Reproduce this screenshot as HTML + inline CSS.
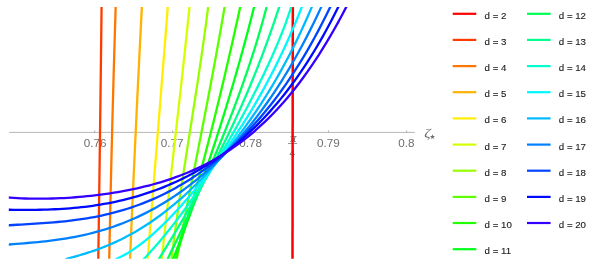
<!DOCTYPE html>
<html><head><meta charset="utf-8"><title>plot</title>
<style>html,body{margin:0;padding:0;background:#fff;}body{width:596px;height:264px;position:relative;overflow:hidden;will-change:transform;font-family:"Liberation Sans",sans-serif;}</style></head>
<body>
<svg width="596" height="264" viewBox="0 0 596 264" style="position:absolute;left:0;top:0">
<g stroke="#a3a3a3" stroke-width="0.8" fill="none">
<line x1="9.2" y1="132.4" x2="414.8" y2="132.4"/>
<line x1="94.7" y1="130.4" x2="94.7" y2="132.4"/>
<line x1="172.7" y1="130.4" x2="172.7" y2="132.4"/>
<line x1="250.7" y1="130.4" x2="250.7" y2="132.4"/>
<line x1="292.6" y1="130.4" x2="292.6" y2="132.4"/>
<line x1="328.6" y1="130.4" x2="328.6" y2="132.4"/>
<line x1="406.6" y1="130.4" x2="406.6" y2="132.4"/>
</g>
<g font-family="Liberation Sans, sans-serif" font-size="11.7" fill="#6e6e6e" text-anchor="middle">
<text x="95.2" y="147.3">0.76</text>
<text x="172.2" y="147.3">0.77</text>
<text x="250.7" y="147.3">0.78</text>
<text x="328.3" y="147.3">0.79</text>
<text x="406.4" y="147.3">0.8</text>
</g>
<g fill="#6e6e6e">
<text x="293.2" y="142.4" font-family="Liberation Serif, serif" font-style="italic" font-size="13" text-anchor="middle">π</text>
<rect x="288" y="143.1" width="9.1" height="0.7"/>
<text x="292.4" y="156.5" font-family="Liberation Sans, sans-serif" font-size="10.3" text-anchor="middle">4</text>
<text transform="translate(424.2,136.9) scale(1.18,1)" font-family="Liberation Serif, serif" font-style="italic" font-size="13.3">ζ</text>
<polygon points="432.50,134.20 433.12,136.05 435.07,136.07 433.50,137.22 434.09,139.08 432.50,137.95 430.91,139.08 431.50,137.22 429.93,136.07 431.88,136.05"/>
</g>
<clipPath id="cp"><rect x="8.8" y="7.1" width="408" height="251.6"/></clipPath>
<g fill="none" stroke-width="2.3" stroke-linecap="butt" stroke-linejoin="round" clip-path="url(#cp)">
<line x1="292.8" y1="5" x2="292.5" y2="260" stroke-width="2.5" stroke="#ff0000"/>
<path d="M101.60 5.00 L101.55 9.32 L101.50 13.64 L101.45 17.97 L101.40 22.29 L101.34 26.61 L101.29 30.93 L101.24 35.25 L101.19 39.58 L101.14 43.90 L101.09 48.22 L101.03 52.54 L100.98 56.86 L100.93 61.19 L100.88 65.51 L100.82 69.83 L100.77 74.15 L100.72 78.47 L100.66 82.80 L100.61 87.12 L100.56 91.44 L100.50 95.76 L100.45 100.08 L100.39 104.41 L100.34 108.73 L100.28 113.05 L100.23 117.37 L100.17 121.69 L100.11 126.02 L100.06 130.34 L100.00 134.66 L99.94 138.98 L99.89 143.31 L99.83 147.63 L99.77 151.95 L99.72 156.27 L99.66 160.59 L99.60 164.92 L99.54 169.24 L99.48 173.56 L99.43 177.88 L99.37 182.20 L99.31 186.53 L99.25 190.85 L99.19 195.17 L99.13 199.49 L99.07 203.81 L99.01 208.14 L98.95 212.46 L98.89 216.78 L98.83 221.10 L98.77 225.42 L98.71 229.75 L98.65 234.07 L98.59 238.39 L98.52 242.71 L98.46 247.03 L98.40 251.36 L98.34 255.68 L98.27 260.00" stroke="#ff3c00"/>
<path d="M115.73 5.00 L115.59 9.32 L115.46 13.64 L115.32 17.97 L115.19 22.29 L115.06 26.61 L114.93 30.93 L114.80 35.25 L114.67 39.58 L114.54 43.90 L114.42 48.22 L114.29 52.54 L114.16 56.86 L114.04 61.19 L113.92 65.51 L113.79 69.83 L113.67 74.15 L113.55 78.47 L113.43 82.80 L113.31 87.12 L113.19 91.44 L113.07 95.76 L112.95 100.08 L112.84 104.41 L112.72 108.73 L112.61 113.05 L112.49 117.37 L112.38 121.69 L112.27 126.02 L112.16 130.34 L112.05 134.66 L111.94 138.98 L111.83 143.31 L111.72 147.63 L111.61 151.95 L111.51 156.27 L111.40 160.59 L111.30 164.92 L111.19 169.24 L111.09 173.56 L110.99 177.88 L110.89 182.20 L110.79 186.53 L110.69 190.85 L110.59 195.17 L110.49 199.49 L110.40 203.81 L110.30 208.14 L110.20 212.46 L110.11 216.78 L110.02 221.10 L109.92 225.42 L109.83 229.75 L109.74 234.07 L109.65 238.39 L109.56 242.71 L109.47 247.03 L109.38 251.36 L109.30 255.68 L109.21 260.00" stroke="#ff7700"/>
<path d="M141.97 5.00 L141.75 9.32 L141.52 13.64 L141.30 17.97 L141.08 22.29 L140.86 26.61 L140.64 30.93 L140.42 35.25 L140.20 39.58 L139.98 43.90 L139.76 48.22 L139.55 52.54 L139.33 56.86 L139.12 61.19 L138.90 65.51 L138.69 69.83 L138.47 74.15 L138.26 78.47 L138.05 82.80 L137.84 87.12 L137.63 91.44 L137.42 95.76 L137.21 100.08 L137.00 104.41 L136.80 108.73 L136.59 113.05 L136.38 117.37 L136.18 121.69 L135.97 126.02 L135.77 130.34 L135.57 134.66 L135.37 138.98 L135.16 143.31 L134.96 147.63 L134.76 151.95 L134.56 156.27 L134.37 160.59 L134.17 164.92 L133.97 169.24 L133.77 173.56 L133.58 177.88 L133.38 182.20 L133.19 186.53 L133.00 190.85 L132.80 195.17 L132.61 199.49 L132.42 203.81 L132.23 208.14 L132.04 212.46 L131.85 216.78 L131.66 221.10 L131.47 225.42 L131.29 229.75 L131.10 234.07 L130.91 238.39 L130.73 242.71 L130.54 247.03 L130.36 251.36 L130.18 255.68 L130.00 260.00" stroke="#ffb200"/>
<path d="M167.95 5.00 L167.61 9.32 L167.27 13.64 L166.93 17.97 L166.58 22.29 L166.24 26.61 L165.90 30.93 L165.56 35.25 L165.22 39.58 L164.87 43.90 L164.53 48.22 L164.19 52.54 L163.85 56.86 L163.50 61.19 L163.16 65.51 L162.82 69.83 L162.47 74.15 L162.13 78.47 L161.79 82.80 L161.44 87.12 L161.10 91.44 L160.75 95.76 L160.41 100.08 L160.07 104.41 L159.72 108.73 L159.38 113.05 L159.03 117.37 L158.69 121.69 L158.34 126.02 L158.00 130.34 L157.65 134.66 L157.30 138.98 L156.96 143.31 L156.61 147.63 L156.27 151.95 L155.92 156.27 L155.57 160.59 L155.23 164.92 L154.88 169.24 L154.53 173.56 L154.19 177.88 L153.84 182.20 L153.49 186.53 L153.15 190.85 L152.80 195.17 L152.45 199.49 L152.10 203.81 L151.76 208.14 L151.41 212.46 L151.06 216.78 L150.71 221.10 L150.36 225.42 L150.01 229.75 L149.67 234.07 L149.32 238.39 L148.97 242.71 L148.62 247.03 L148.27 251.36 L147.92 255.68 L147.57 260.00" stroke="#ffee00"/>
<path d="M189.68 5.00 L189.24 9.32 L188.80 13.64 L188.35 17.97 L187.91 22.29 L187.46 26.61 L187.00 30.93 L186.55 35.25 L186.09 39.58 L185.63 43.90 L185.17 48.22 L184.70 52.54 L184.24 56.86 L183.77 61.19 L183.30 65.51 L182.82 69.83 L182.35 74.15 L181.87 78.47 L181.39 82.80 L180.91 87.12 L180.43 91.44 L179.95 95.76 L179.47 100.08 L178.98 104.41 L178.50 108.73 L178.01 113.05 L177.53 117.37 L177.04 121.69 L176.55 126.02 L176.06 130.34 L175.57 134.66 L175.08 138.98 L174.59 143.31 L174.11 147.63 L173.62 151.95 L173.13 156.27 L172.64 160.59 L172.15 164.92 L171.66 169.24 L171.17 173.56 L170.69 177.88 L170.20 182.20 L169.71 186.53 L169.23 190.85 L168.75 195.17 L168.26 199.49 L167.78 203.81 L167.30 208.14 L166.82 212.46 L166.35 216.78 L165.87 221.10 L165.40 225.42 L164.93 229.75 L164.46 234.07 L163.99 238.39 L163.52 242.71 L163.06 247.03 L162.60 251.36 L162.14 255.68 L161.68 260.00" stroke="#d4ff00"/>
<path d="M208.35 5.00 L207.82 9.32 L207.27 13.64 L206.72 17.97 L206.16 22.29 L205.58 26.61 L205.00 30.93 L204.41 35.25 L203.82 39.58 L203.21 43.90 L202.60 48.22 L201.99 52.54 L201.36 56.86 L200.73 61.19 L200.10 65.51 L199.46 69.83 L198.81 74.15 L198.16 78.47 L197.51 82.80 L196.85 87.12 L196.18 91.44 L195.52 95.76 L194.85 100.08 L194.18 104.41 L193.51 108.73 L192.83 113.05 L192.16 117.37 L191.48 121.69 L190.80 126.02 L190.13 130.34 L189.45 134.66 L188.77 138.98 L188.10 143.31 L187.42 147.63 L186.75 151.95 L186.08 156.27 L185.41 160.59 L184.74 164.92 L184.07 169.24 L183.41 173.56 L182.76 177.88 L182.10 182.20 L181.46 186.53 L180.81 190.85 L180.17 195.17 L179.54 199.49 L178.91 203.81 L178.29 208.14 L177.67 212.46 L177.07 216.78 L176.47 221.10 L175.87 225.42 L175.29 229.75 L174.71 234.07 L174.14 238.39 L173.58 242.71 L173.03 247.03 L172.49 251.36 L171.96 255.68 L171.44 260.00" stroke="#99ff00"/>
<path d="M224.96 5.00 L224.22 9.32 L223.48 13.64 L222.73 17.97 L221.98 22.29 L221.22 26.61 L220.46 30.93 L219.69 35.25 L218.91 39.58 L218.14 43.90 L217.35 48.22 L216.57 52.54 L215.78 56.86 L214.99 61.19 L214.19 65.51 L213.39 69.83 L212.58 74.15 L211.77 78.47 L210.96 82.80 L210.15 87.12 L209.33 91.44 L208.51 95.76 L207.69 100.08 L206.86 104.41 L206.03 108.73 L205.20 113.05 L204.37 117.37 L203.53 121.69 L202.70 126.02 L201.86 130.34 L201.02 134.66 L200.18 138.98 L199.33 143.31 L198.49 147.63 L197.64 151.95 L196.80 156.27 L195.95 160.59 L195.10 164.92 L194.25 169.24 L193.40 173.56 L192.55 177.88 L191.70 182.20 L190.85 186.53 L190.00 190.85 L189.15 195.17 L188.30 199.49 L187.45 203.81 L186.60 208.14 L185.75 212.46 L184.91 216.78 L184.06 221.10 L183.22 225.42 L182.37 229.75 L181.53 234.07 L180.69 238.39 L179.85 242.71 L179.01 247.03 L178.17 251.36 L177.34 255.68 L176.51 260.00" stroke="#5eff00"/>
<path d="M240.62 5.00 L239.68 9.32 L238.74 13.64 L237.79 17.97 L236.84 22.29 L235.88 26.61 L234.92 30.93 L233.96 35.25 L232.99 39.58 L232.01 43.90 L231.04 48.22 L230.05 52.54 L229.06 56.86 L228.07 61.19 L227.07 65.51 L226.06 69.83 L225.05 74.15 L224.03 78.47 L223.01 82.80 L221.98 87.12 L220.95 91.44 L219.91 95.76 L218.87 100.08 L217.81 104.41 L216.76 108.73 L215.69 113.05 L214.62 117.37 L213.55 121.69 L212.46 126.02 L211.37 130.34 L210.28 134.66 L209.18 138.98 L208.07 143.31 L206.95 147.63 L205.83 151.95 L204.69 156.27 L203.56 160.59 L202.41 164.92 L201.26 169.24 L200.10 173.56 L198.93 177.88 L197.76 182.20 L196.57 186.53 L195.38 190.85 L194.18 195.17 L192.98 199.49 L191.76 203.81 L190.54 208.14 L189.31 212.46 L188.07 216.78 L186.82 221.10 L185.57 225.42 L184.30 229.75 L183.03 234.07 L181.75 238.39 L180.46 242.71 L179.16 247.03 L177.85 251.36 L176.53 255.68 L175.20 260.00" stroke="#22ff00"/>
<path d="M254.58 5.00 L253.50 9.32 L252.40 13.64 L251.29 17.97 L250.17 22.29 L249.05 26.61 L247.91 30.93 L246.76 35.25 L245.60 39.58 L244.44 43.90 L243.26 48.22 L242.07 52.54 L240.88 56.86 L239.67 61.19 L238.45 65.51 L237.22 69.83 L235.99 74.15 L234.74 78.47 L233.48 82.80 L232.21 87.12 L230.93 91.44 L229.64 95.76 L228.34 100.08 L227.03 104.41 L225.71 108.73 L224.38 113.05 L223.04 117.37 L221.69 121.69 L220.33 126.02 L218.95 130.34 L217.57 134.66 L216.18 138.98 L214.77 143.31 L213.36 147.63 L211.93 151.95 L210.49 156.27 L209.05 160.59 L207.59 164.92 L206.12 169.24 L204.64 173.56 L203.15 177.88 L201.64 182.20 L200.13 186.53 L198.61 190.85 L197.07 195.17 L195.52 199.49 L193.97 203.81 L192.40 208.14 L190.82 212.46 L189.23 216.78 L187.62 221.10 L186.01 225.42 L184.39 229.75 L182.75 234.07 L181.10 238.39 L179.44 242.71 L177.77 247.03 L176.09 251.36 L174.40 255.68 L172.69 260.00" stroke="#00ff19"/>
<path d="M267.10 5.00 L265.97 9.32 L264.82 13.64 L263.65 17.97 L262.45 22.29 L261.22 26.61 L259.97 30.93 L258.70 35.25 L257.40 39.58 L256.09 43.90 L254.74 48.22 L253.38 52.54 L251.99 56.86 L250.58 61.19 L249.15 65.51 L247.70 69.83 L246.23 74.15 L244.74 78.47 L243.22 82.80 L241.69 87.12 L240.14 91.44 L238.56 95.76 L236.97 100.08 L235.36 104.41 L233.73 108.73 L232.08 113.05 L230.41 117.37 L228.73 121.69 L227.02 126.02 L225.30 130.34 L223.57 134.66 L221.81 138.98 L220.04 143.31 L218.26 147.63 L216.46 151.95 L214.64 156.27 L212.81 160.59 L210.96 164.92 L209.10 169.24 L207.22 173.56 L205.33 177.88 L203.43 182.20 L201.51 186.53 L199.58 190.85 L197.64 195.17 L195.69 199.49 L193.72 203.81 L191.74 208.14 L189.75 212.46 L187.74 216.78 L185.73 221.10 L183.71 225.42 L181.67 229.75 L179.63 234.07 L177.57 238.39 L175.51 242.71 L173.43 247.03 L171.35 251.36 L169.26 255.68 L167.16 260.00" stroke="#00ff55"/>
<path d="M279.83 5.00 L278.42 9.32 L276.99 13.64 L275.54 17.97 L274.08 22.29 L272.59 26.61 L271.09 30.93 L269.56 35.25 L268.01 39.58 L266.45 43.90 L264.86 48.22 L263.25 52.54 L261.62 56.86 L259.96 61.19 L258.29 65.51 L256.59 69.83 L254.86 74.15 L253.12 78.47 L251.34 82.80 L249.55 87.12 L247.73 91.44 L245.89 95.76 L244.02 100.08 L242.13 104.41 L240.21 108.73 L238.27 113.05 L236.31 117.37 L234.32 121.69 L232.30 126.02 L230.26 130.34 L228.19 134.66 L226.10 138.98 L223.99 143.31 L221.85 147.63 L219.68 151.95 L217.49 156.27 L215.28 160.59 L213.04 164.92 L210.78 169.24 L208.50 173.56 L206.19 177.88 L203.85 182.20 L201.50 186.53 L199.12 190.85 L196.72 195.17 L194.30 199.49 L191.85 203.81 L189.39 208.14 L186.90 212.46 L184.39 216.78 L181.86 221.10 L179.31 225.42 L176.74 229.75 L174.16 234.07 L171.55 238.39 L168.93 242.71 L166.29 247.03 L163.63 251.36 L160.96 255.68 L158.27 260.00" stroke="#00ff90"/>
<path d="M291.84 5.00 L290.46 9.32 L289.03 13.64 L287.53 17.97 L285.98 22.29 L284.38 26.61 L282.72 30.93 L281.02 35.25 L279.26 39.58 L277.47 43.90 L275.63 48.22 L273.75 52.54 L271.84 56.86 L269.88 61.19 L267.90 65.51 L265.88 69.83 L263.83 74.15 L261.74 78.47 L259.63 82.80 L257.49 87.12 L255.32 91.44 L253.13 95.76 L250.91 100.08 L248.66 104.41 L246.39 108.73 L244.09 113.05 L241.77 117.37 L239.42 121.69 L237.04 126.02 L234.64 130.34 L232.21 134.66 L229.75 138.98 L227.27 143.31 L224.75 147.63 L222.21 151.95 L219.63 156.27 L217.03 160.59 L214.38 164.92 L211.70 169.24 L208.99 173.56 L206.23 177.88 L203.43 182.20 L200.59 186.53 L197.71 190.85 L194.77 195.17 L191.79 199.49 L188.75 203.81 L185.65 208.14 L182.50 212.46 L179.28 216.78 L176.00 221.10 L172.65 225.42 L169.23 229.75 L165.73 234.07 L162.15 238.39 L158.49 242.71 L154.74 247.03 L150.90 251.36 L146.97 255.68 L142.93 260.00" stroke="#00ffcc"/>
<path d="M115.50 259.20 L117.63 258.29 L119.76 257.31 L121.88 256.26 L124.01 255.13 L126.14 253.94 L128.27 252.69 L130.40 251.37 L132.52 249.99 L134.65 248.55 L136.78 247.06 L138.91 245.51 L141.04 243.91 L143.17 242.26 L145.29 240.55 L147.42 238.80 L149.55 237.01 L151.68 235.17 L153.81 233.28 L155.93 231.36 L158.06 229.39 L160.19 227.38 L162.32 225.34 L164.45 223.26 L166.57 221.14 L168.70 218.99 L170.83 216.80 L172.96 214.58 L175.09 212.32 L177.21 210.04 L179.34 207.72 L181.47 205.37 L183.60 202.99 L185.73 200.58 L187.86 198.14 L189.98 195.67 L192.11 193.17 L194.24 190.64 L196.37 188.08 L198.50 185.49 L200.62 182.87 L202.75 180.23 L204.88 177.55 L207.01 174.84 L209.14 172.10 L211.26 169.34 L213.39 166.54 L215.52 163.70 L217.65 160.84 L219.78 157.94 L221.90 155.01 L224.03 152.04 L226.16 149.04 L228.29 146.00 L230.42 142.92 L232.54 139.80 L234.67 136.65 L236.80 133.45 L238.93 130.21 L241.06 126.93 L243.19 123.60 L245.31 120.23 L247.44 116.81 L249.57 113.33 L251.70 109.81 L253.83 106.24 L255.95 102.61 L258.08 98.92 L260.21 95.18 L262.34 91.37 L264.47 87.50 L266.59 83.57 L268.72 79.57 L270.85 75.51 L272.98 71.37 L275.11 67.16 L277.23 62.88 L279.36 58.51 L281.49 54.07 L283.62 49.54 L285.75 44.93 L287.88 40.23 L290.00 35.44 L292.13 30.56 L294.26 25.58 L296.39 20.50 L298.52 15.31 L300.64 10.03 L302.77 4.63 L304.90 -0.88" stroke="#00f7ff"/>
<path d="M65.50 259.24 L68.30 258.46 L71.10 257.68 L73.91 256.89 L76.71 256.09 L79.51 255.27 L82.31 254.42 L85.12 253.56 L87.92 252.67 L90.72 251.75 L93.52 250.80 L96.32 249.81 L99.13 248.80 L101.93 247.74 L104.73 246.65 L107.53 245.51 L110.34 244.34 L113.14 243.12 L115.94 241.86 L118.74 240.55 L121.54 239.19 L124.35 237.79 L127.15 236.34 L129.95 234.84 L132.75 233.29 L135.56 231.69 L138.36 230.04 L141.16 228.34 L143.96 226.59 L146.77 224.79 L149.57 222.93 L152.37 221.02 L155.17 219.06 L157.97 217.04 L160.78 214.98 L163.58 212.86 L166.38 210.68 L169.18 208.46 L171.99 206.18 L174.79 203.85 L177.59 201.46 L180.39 199.02 L183.19 196.53 L186.00 193.98 L188.80 191.38 L191.60 188.73 L194.40 186.02 L197.21 183.26 L200.01 180.44 L202.81 177.57 L205.61 174.64 L208.41 171.65 L211.22 168.61 L214.02 165.51 L216.82 162.35 L219.62 159.14 L222.43 155.86 L225.23 152.52 L228.03 149.12 L230.83 145.66 L233.63 142.13 L236.44 138.53 L239.24 134.87 L242.04 131.14 L244.84 127.33 L247.65 123.45 L250.45 119.50 L253.25 115.46 L256.05 111.34 L258.86 107.14 L261.66 102.86 L264.46 98.48 L267.26 94.01 L270.06 89.45 L272.87 84.78 L275.67 80.01 L278.47 75.13 L281.27 70.13 L284.08 65.03 L286.88 59.79 L289.68 54.43 L292.48 48.94 L295.28 43.32 L298.09 37.54 L300.89 31.62 L303.69 25.55 L306.49 19.31 L309.30 12.90 L312.10 6.32 L314.90 -0.45" stroke="#00bbff"/>
<path d="M6.00 244.81 L9.58 244.51 L13.15 244.21 L16.73 243.92 L20.31 243.62 L23.88 243.32 L27.46 243.02 L31.03 242.70 L34.61 242.37 L38.19 242.02 L41.76 241.66 L45.34 241.27 L48.92 240.85 L52.49 240.41 L56.07 239.94 L59.65 239.43 L63.22 238.90 L66.80 238.32 L70.38 237.71 L73.95 237.05 L77.53 236.36 L81.10 235.62 L84.68 234.83 L88.26 234.00 L91.83 233.11 L95.41 232.18 L98.99 231.20 L102.56 230.16 L106.14 229.07 L109.72 227.92 L113.29 226.72 L116.87 225.45 L120.44 224.13 L124.02 222.75 L127.60 221.30 L131.17 219.80 L134.75 218.22 L138.33 216.59 L141.90 214.88 L145.48 213.11 L149.06 211.28 L152.63 209.37 L156.21 207.39 L159.79 205.34 L163.36 203.21 L166.94 201.02 L170.51 198.74 L174.09 196.39 L177.67 193.97 L181.24 191.46 L184.82 188.87 L188.40 186.20 L191.97 183.45 L195.55 180.61 L199.13 177.68 L202.70 174.67 L206.28 171.56 L209.86 168.37 L213.43 165.07 L217.01 161.69 L220.58 158.20 L224.16 154.61 L227.74 150.92 L231.31 147.13 L234.89 143.22 L238.47 139.21 L242.04 135.08 L245.62 130.84 L249.20 126.47 L252.77 121.99 L256.35 117.38 L259.92 112.64 L263.50 107.76 L267.08 102.75 L270.65 97.60 L274.23 92.30 L277.81 86.86 L281.38 81.26 L284.96 75.50 L288.54 69.59 L292.11 63.50 L295.69 57.24 L299.27 50.81 L302.84 44.19 L306.42 37.38 L309.99 30.38 L313.57 23.17 L317.15 15.76 L320.72 8.13 L324.30 0.29" stroke="#0080ff"/>
<path d="M6.00 225.55 L9.68 225.27 L13.36 225.01 L17.03 224.77 L20.71 224.53 L24.39 224.31 L28.07 224.08 L31.74 223.86 L35.42 223.63 L39.10 223.39 L42.78 223.15 L46.45 222.89 L50.13 222.61 L53.81 222.31 L57.49 221.99 L61.16 221.65 L64.84 221.27 L68.52 220.87 L72.20 220.43 L75.87 219.96 L79.55 219.46 L83.23 218.91 L86.91 218.32 L90.58 217.70 L94.26 217.02 L97.94 216.31 L101.62 215.54 L105.29 214.73 L108.97 213.86 L112.65 212.94 L116.33 211.97 L120.00 210.95 L123.68 209.87 L127.36 208.73 L131.04 207.54 L134.71 206.28 L138.39 204.96 L142.07 203.59 L145.75 202.14 L149.42 200.64 L153.10 199.07 L156.78 197.43 L160.46 195.72 L164.13 193.94 L167.81 192.10 L171.49 190.18 L175.17 188.19 L178.84 186.12 L182.52 183.98 L186.20 181.76 L189.88 179.46 L193.55 177.08 L197.23 174.62 L200.91 172.07 L204.59 169.44 L208.26 166.72 L211.94 163.91 L215.62 161.01 L219.30 158.01 L222.97 154.92 L226.65 151.73 L230.33 148.43 L234.01 145.04 L237.68 141.54 L241.36 137.93 L245.04 134.20 L248.72 130.36 L252.39 126.40 L256.07 122.32 L259.75 118.12 L263.43 113.78 L267.10 109.32 L270.78 104.71 L274.46 99.96 L278.14 95.07 L281.81 90.02 L285.49 84.83 L289.17 79.47 L292.85 73.94 L296.52 68.24 L300.20 62.37 L303.88 56.32 L307.56 50.07 L311.23 43.64 L314.91 37.00 L318.59 30.15 L322.27 23.09 L325.94 15.81 L329.62 8.29 L333.30 0.54" stroke="#0044ff"/>
<path d="M6.00 209.72 L9.77 209.77 L13.54 209.81 L17.31 209.85 L21.07 209.88 L24.84 209.89 L28.61 209.88 L32.38 209.86 L36.15 209.82 L39.92 209.76 L43.69 209.67 L47.45 209.56 L51.22 209.42 L54.99 209.26 L58.76 209.07 L62.53 208.84 L66.30 208.59 L70.07 208.30 L73.83 207.97 L77.60 207.61 L81.37 207.21 L85.14 206.78 L88.91 206.30 L92.68 205.79 L96.44 205.23 L100.21 204.63 L103.98 203.99 L107.75 203.30 L111.52 202.56 L115.29 201.78 L119.06 200.95 L122.82 200.07 L126.59 199.14 L130.36 198.16 L134.13 197.13 L137.90 196.04 L141.67 194.90 L145.44 193.70 L149.20 192.45 L152.97 191.13 L156.74 189.76 L160.51 188.32 L164.28 186.83 L168.05 185.27 L171.82 183.64 L175.58 181.95 L179.35 180.18 L183.12 178.35 L186.89 176.45 L190.66 174.47 L194.43 172.42 L198.20 170.28 L201.96 168.07 L205.73 165.78 L209.50 163.40 L213.27 160.94 L217.04 158.38 L220.81 155.74 L224.58 153.00 L228.34 150.16 L232.11 147.22 L235.88 144.18 L239.65 141.04 L243.42 137.78 L247.19 134.41 L250.96 130.93 L254.72 127.33 L258.49 123.60 L262.26 119.74 L266.03 115.75 L269.80 111.63 L273.57 107.36 L277.33 102.95 L281.10 98.39 L284.87 93.68 L288.64 88.81 L292.41 83.77 L296.18 78.56 L299.95 73.17 L303.71 67.60 L307.48 61.85 L311.25 55.90 L315.02 49.75 L318.79 43.39 L322.56 36.82 L326.33 30.02 L330.09 23.00 L333.86 15.75 L337.63 8.25 L341.40 0.49" stroke="#0009ff"/>
<path d="M6.00 197.31 L9.86 197.64 L13.72 197.92 L17.58 198.16 L21.43 198.35 L25.29 198.50 L29.15 198.62 L33.01 198.69 L36.87 198.72 L40.73 198.72 L44.58 198.69 L48.44 198.62 L52.30 198.52 L56.16 198.39 L60.02 198.22 L63.88 198.03 L67.73 197.80 L71.59 197.54 L75.45 197.26 L79.31 196.94 L83.17 196.60 L87.03 196.22 L90.89 195.81 L94.74 195.38 L98.60 194.91 L102.46 194.40 L106.32 193.87 L110.18 193.30 L114.04 192.70 L117.89 192.06 L121.75 191.39 L125.61 190.67 L129.47 189.92 L133.33 189.13 L137.19 188.29 L141.04 187.41 L144.90 186.48 L148.76 185.51 L152.62 184.49 L156.48 183.41 L160.34 182.29 L164.20 181.10 L168.05 179.86 L171.91 178.56 L175.77 177.20 L179.63 175.77 L183.49 174.27 L187.35 172.70 L191.20 171.07 L195.06 169.35 L198.92 167.56 L202.78 165.68 L206.64 163.73 L210.50 161.68 L214.36 159.55 L218.21 157.32 L222.07 154.99 L225.93 152.57 L229.79 150.04 L233.65 147.41 L237.51 144.66 L241.36 141.81 L245.22 138.84 L249.08 135.74 L252.94 132.53 L256.80 129.18 L260.66 125.71 L264.51 122.10 L268.37 118.35 L272.23 114.46 L276.09 110.43 L279.95 106.24 L283.81 101.91 L287.67 97.41 L291.52 92.76 L295.38 87.93 L299.24 82.94 L303.10 77.78 L306.96 72.44 L310.82 66.91 L314.67 61.21 L318.53 55.31 L322.39 49.22 L326.25 42.93 L330.11 36.44 L333.97 29.75 L337.82 22.84 L341.68 15.73 L345.54 8.39 L349.40 0.83" stroke="#3300ff"/>
</g>
<g stroke-width="2.2" fill="none">
<line x1="452.7" y1="13.8" x2="476.3" y2="13.8" stroke="#ff0000"/>
<line x1="452.7" y1="39.9" x2="476.3" y2="39.9" stroke="#ff3c00"/>
<line x1="452.7" y1="66.1" x2="476.3" y2="66.1" stroke="#ff7700"/>
<line x1="452.7" y1="92.2" x2="476.3" y2="92.2" stroke="#ffb200"/>
<line x1="452.7" y1="118.4" x2="476.3" y2="118.4" stroke="#ffee00"/>
<line x1="452.7" y1="144.6" x2="476.3" y2="144.6" stroke="#d4ff00"/>
<line x1="452.7" y1="170.7" x2="476.3" y2="170.7" stroke="#99ff00"/>
<line x1="452.7" y1="196.9" x2="476.3" y2="196.9" stroke="#5eff00"/>
<line x1="452.7" y1="223.0" x2="476.3" y2="223.0" stroke="#22ff00"/>
<line x1="452.7" y1="249.2" x2="476.3" y2="249.2" stroke="#00ff19"/>
<line x1="527" y1="13.8" x2="550.6" y2="13.8" stroke="#00ff55"/>
<line x1="527" y1="39.9" x2="550.6" y2="39.9" stroke="#00ff90"/>
<line x1="527" y1="66.1" x2="550.6" y2="66.1" stroke="#00ffcc"/>
<line x1="527" y1="92.2" x2="550.6" y2="92.2" stroke="#00f7ff"/>
<line x1="527" y1="118.4" x2="550.6" y2="118.4" stroke="#00bbff"/>
<line x1="527" y1="144.6" x2="550.6" y2="144.6" stroke="#0080ff"/>
<line x1="527" y1="170.7" x2="550.6" y2="170.7" stroke="#0044ff"/>
<line x1="527" y1="196.9" x2="550.6" y2="196.9" stroke="#0009ff"/>
<line x1="527" y1="223.0" x2="550.6" y2="223.0" stroke="#3300ff"/>
</g>
<g font-family="Liberation Sans, sans-serif" font-size="9.7" fill="#1a1a1a" stroke="#1a1a1a" stroke-width="0.12">
<text x="484.6" y="18.8">d = 2</text>
<text x="484.6" y="44.9">d = 3</text>
<text x="484.6" y="71.1">d = 4</text>
<text x="484.6" y="97.2">d = 5</text>
<text x="484.6" y="123.4">d = 6</text>
<text x="484.6" y="149.6">d = 7</text>
<text x="484.6" y="175.7">d = 8</text>
<text x="484.6" y="201.9">d = 9</text>
<text x="484.6" y="228.0">d = 10</text>
<text x="484.6" y="254.2">d = 11</text>
<text x="558.8" y="18.8">d = 12</text>
<text x="558.8" y="44.9">d = 13</text>
<text x="558.8" y="71.1">d = 14</text>
<text x="558.8" y="97.2">d = 15</text>
<text x="558.8" y="123.4">d = 16</text>
<text x="558.8" y="149.6">d = 17</text>
<text x="558.8" y="175.7">d = 18</text>
<text x="558.8" y="201.9">d = 19</text>
<text x="558.8" y="228.0">d = 20</text>
</g>
</svg>
</body></html>
